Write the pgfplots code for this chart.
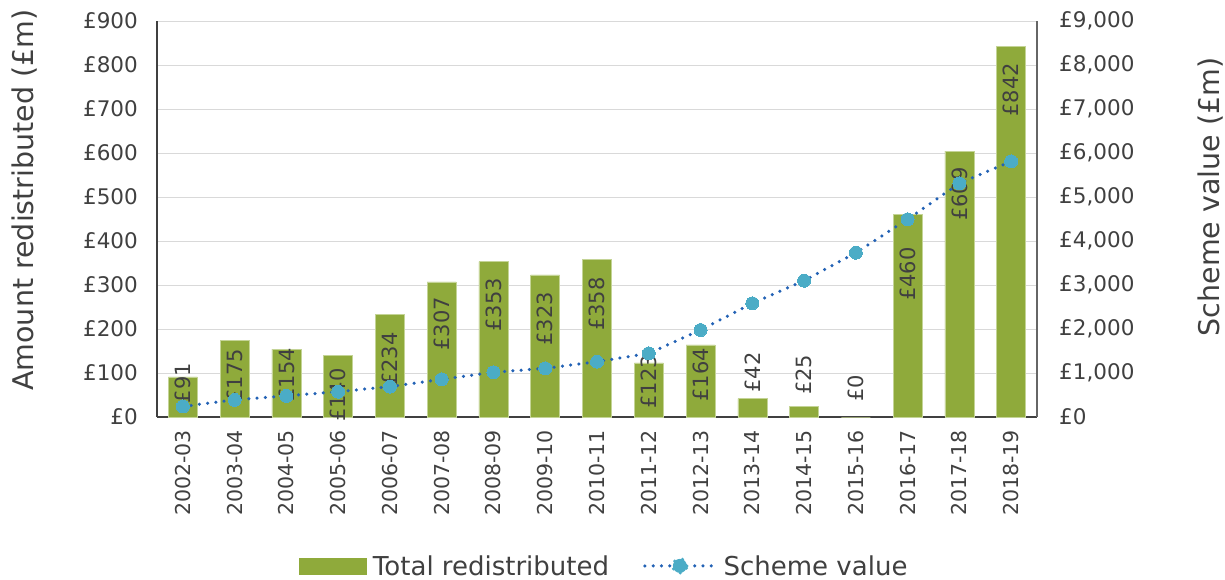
\documentclass[border=0pt]{standalone}
\usepackage{pgfplots}
\pgfplotsset{compat=1.18}
\usepackage{pgfplotstable}
\usepackage{fontspec}
\setmainfont{DejaVu Sans}
\definecolor{barc}{RGB}{143,170,59}
\definecolor{baredge}{RGB}{196,212,150}
\definecolor{mk}{RGB}{75,172,198}
\definecolor{ln}{RGB}{35,98,181}
\definecolor{txt}{RGB}{64,64,64}
\definecolor{grd}{RGB}{217,217,217}

\pgfplotstableread{
x bar
0 91
1 175
2 154
3 140
4 234
5 307
6 353
7 323
8 358
9 123
10 164
11 42
12 25
13 0
14 460
15 604
16 842
}\bars

\pgfplotstableread{
x ly lab
0 123 91
1 155 175
2 157 154
3 111 140
4 193 234
5 273 307
6 316 353
7 284 323
8 318 358
9 141 123
10 157 164
14 386 460
15 568 609
16 805 842
}\inlabels

\pgfplotstableread{
x ly lab
11 55 42
12 50 25
13 34 0
}\outlabels

\pgfplotstableread{
x sv
0 240
1 390
2 480
3 575
4 690
5 857
6 1016
7 1106
8 1257
9 1447
10 1977
11 2584
12 3098
13 3734
14 4493
15 5311
16 5811
}\scheme

\begin{document}
\begin{tikzpicture}
\path[use as bounding box] (0pt,0pt) rectangle (1225pt,579pt);
\begin{axis}[
  at={(157pt,162pt)}, anchor=south west,
  scale only axis, width=880pt, height=396pt,
  xmin=-0.5, xmax=16.5, ymin=0, ymax=900,
  axis x line*=bottom, axis y line*=left,
  axis line style={draw=txt, line width=1.2pt},
  xtick={0,...,16},
  xticklabels={2002-03,2003-04,2004-05,2005-06,2006-07,2007-08,2008-09,2009-10,2010-11,2011-12,2012-13,2013-14,2014-15,2015-16,2016-17,2017-18,2018-19},
  xticklabel style={rotate=90, anchor=east, inner sep=0pt, font=\fontsize{20.5}{23}\selectfont, text=txt},
  xticklabel shift=13pt,
  ytick={0,100,...,900},
  yticklabel={£\pgfmathprintnumber{\tick}},
  /pgf/number format/assume math mode=true,
  yticklabel style={anchor=east, inner sep=0pt, font=\fontsize{21.5}{24}\selectfont, text=txt},
  yticklabel shift=19pt,
  major tick length=0pt,
  ymajorgrids, major grid style={draw=grd, line width=1pt},
  ylabel={Amount redistributed (£m)},
  ylabel style={at={(axis description cs:-0.15,0.548)}, anchor=center, font=\fontsize{28.5}{32}\selectfont, text=txt},
  clip=false,
]
\addplot[ybar, bar width=29pt, fill=barc, draw=baredge, line width=0.6pt, bar shift=0pt] table[x=x, y=bar] {\bars};
\addplot[draw=none, mark=none, nodes near coords={£\pgfplotspointmeta}, point meta=explicit symbolic,
  nodes near coords style={rotate=90, anchor=east, inner sep=0pt, font=\fontsize{21}{24}\selectfont, text=txt}]
  table[x=x, y=ly, meta=lab] {\inlabels};
\addplot[draw=none, mark=none, nodes near coords={£\pgfplotspointmeta}, point meta=explicit symbolic,
  nodes near coords style={rotate=90, anchor=west, inner sep=0pt, font=\fontsize{21}{24}\selectfont, text=txt}]
  table[x=x, y=ly, meta=lab] {\outlabels};
\end{axis}
\begin{axis}[
  at={(157pt,162pt)}, anchor=south west,
  scale only axis, width=880pt, height=396pt,
  xmin=-0.5, xmax=16.5, ymin=0, ymax=9000,
  axis x line=none, axis y line*=right,
  axis line style={draw=txt!80, line width=1.2pt},
  ytick={0,1000,...,9000},
  scaled y ticks=false,
  yticklabel={£\pgfmathprintnumber{\tick}},
  /pgf/number format/assume math mode=true,
  /pgf/number format/1000 sep={,},
  yticklabel style={anchor=west, inner sep=0pt, font=\fontsize{21.5}{24}\selectfont, text=txt},
  yticklabel shift=22pt,
  major tick length=0pt,
  ylabel={Scheme value (£m)},
  ylabel style={at={(axis description cs:1.197,0.556)}, anchor=center, font=\fontsize{28.5}{32}\selectfont, text=txt},
  legend style={at={(axis description cs:0.508,-0.376)}, anchor=center, draw=none, fill=none,
    legend columns=2, font=\fontsize{26}{30}\selectfont, text=txt,
    /tikz/every odd column/.append style={column sep=5pt},
    /tikz/every even column/.append style={column sep=32pt}},
  clip=false,
]
\addlegendimage{legend image code/.code={\fill[barc] (0pt,-8pt) rectangle (67pt,8pt);}}
\addlegendentry{Total redistributed}
\addplot[ln, line width=3.5pt, line cap=round, dash pattern=on 0pt off 8.3pt,
  mark=*, mark size=6.5pt, mark options={solid, fill=mk, draw=mk, line width=0pt},
  legend image code/.code={\draw[ln, line width=3.5pt, line cap=round, dash pattern=on 0pt off 8.3pt] (0pt,0pt) -- (70pt,0pt); \fill[mk] (35pt,0pt) circle (7pt);}]
  table[x=x, y=sv] {\scheme};
\addlegendentry{Scheme value}
\end{axis}
\end{tikzpicture}
\end{document}
